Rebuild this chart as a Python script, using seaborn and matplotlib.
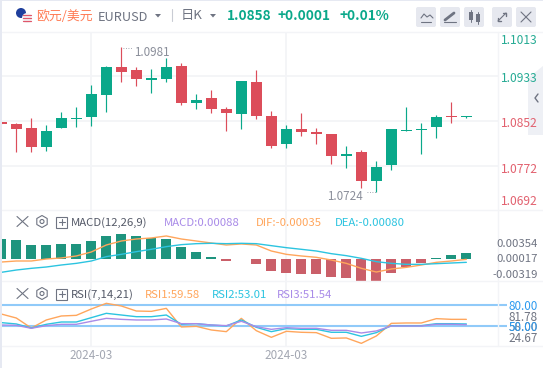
import matplotlib
matplotlib.use("Agg")
import matplotlib.pyplot as plt
import matplotlib.patches as mp
import seaborn as sns
import pandas as pd
import numpy as np

# candles (last one is the latest day)
opens = [1.08507, 1.08471, 1.08399, 1.08057, 1.08399, 1.08561, 1.08597, 1.08993, 1.09497, 1.09443, 1.09270,
         1.09281, 1.09515, 1.08849, 1.08939, 1.08741, 1.08651, 1.09227, 1.08615, 1.08111, 1.08381, 1.08327,
         1.08291, 1.07895, 1.07967, 1.07445, 1.07733, 1.08345, 1.08354, 1.08417, 1.08597, 1.08588]
closes = [1.08471, 1.08381, 1.08057, 1.08345, 1.08579, 1.08579, 1.09011, 1.09497, 1.09407, 1.09281, 1.09281,
          1.09497, 1.08849, 1.08903, 1.08741, 1.08669, 1.09245, 1.08615, 1.08075, 1.08381, 1.08327, 1.08291,
          1.07895, 1.07931, 1.07445, 1.07697, 1.08381, 1.08363, 1.08372, 1.08597, 1.08588, 1.08597]
highs = [1.08507, 1.08489, 1.08579, 1.08453, 1.08687, 1.08777, 1.09173, 1.09515, 1.09852, 1.09497, 1.09461,
         1.09659, 1.09569, 1.09011, 1.09083, 1.08777, 1.09245, 1.09443, 1.08705, 1.08453, 1.08669, 1.08399,
         1.08291, 1.08075, 1.08003, 1.07805, 1.08381, 1.08777, 1.08489, 1.08633, 1.08867, 1.08615]
lows = [1.08471, 1.07967, 1.07967, 1.07985, 1.08399, 1.08417, 1.08435, 1.08687, 1.09227, 1.09155, 1.09029,
        1.09227, 1.08813, 1.08741, 1.08669, 1.08345, 1.08381, 1.08561, 1.08039, 1.08039, 1.08255, 1.08111,
        1.07751, 1.07679, 1.07319, 1.07252, 1.07643, 1.08345, 1.07931, 1.08219, 1.08489, 1.08579]

macd_hist = [.0045, .00428, .00315, .00315, .00338, .00338, .00405, .00518, .00563, .00518, .00473,
             .0045, .0027, .00158, .00045, -.00045, .00011, -.00113, -.0027, -.00315, -.00338, -.00338,
             -.00405, -.00428, -.00495, -.00495, -.00315, -.00188, -.00098, .00015, .0009, .00135]
dif = [-.00068, -.00045, -.00045, 0, .00023, .00068, .00158, .00315, .00405, .0045, .00473,
       .00518, .0045, .00405, .0036, .00315, .00338, .00315, .0018, .00105, .00068, .00038,
       -.00023, -.00098, -.0021, -.00293, -.00225, -.00188, -.00135, -.00075, -.00045, -.00008]
dea = [-.003, -.00248, -.0021, -.0018, -.00135, -.00098, -.00045, .00053, .00105, .00165, .00218,
       .00278, .00323, .00345, .00353, .00345, .00353, .00345, .003, .00255, .00218, .0018,
       .0012, .00075, .00015, -.0006, -.00098, -.0012, -.0012, -.00105, -.0009, -.00075]

rsi1 = [67.1, 61.4, 47.1, 58.6, 64.3, 65.2, 74.3, 82.4, 78.6, 71.4, 70.9, 75.2, 48.6, 49.5, 44.3, 41.9,
        60.9, 43.3, 33.8, 42.4, 41.0, 40.5, 32.4, 32.9, 25.2, 35.7, 53.8, 54.3, 54.3, 60.5, 59.5, 59.5]
rsi2 = [54.8, 52.9, 47.1, 52.4, 55.7, 55.7, 61.9, 68.1, 65.7, 63.3, 63.3, 65.7, 52.4, 53.3, 51.4, 50.0,
        58.6, 48.1, 41.9, 46.2, 45.2, 45.2, 41.0, 41.0, 35.2, 40.5, 50.5, 50.5, 50.5, 53.3, 53.3, 52.9]
rsi3 = [51.4, 51.0, 46.7, 50.5, 52.4, 52.4, 56.7, 60.9, 59.5, 58.6, 58.6, 60.0, 53.3, 53.3, 51.4, 50.5,
        56.7, 49.0, 45.2, 47.6, 46.7, 46.7, 43.8, 43.8, 40.0, 42.9, 50.0, 50.0, 50.0, 52.4, 52.4, 51.9]

price_ticks = [1.1013, 1.0933, 1.0852, 1.0772, 1.0692]
price_labels = ["1.1013", "1.0933", "1.0852", "1.0772", "1.0692"]
date_ticks = [6, 19]
date_labels = ["2024-03", "2024-03"]

GREEN = "#0AA88A"
RED = "#DC4D5A"
ORANGE = "#FFA65C"
CYAN = "#2CC4E0"
PURPLE = "#A98BE8"
GRID = "#F3F4F7"
GRAY = "#6F7482"

sns.set_theme(style="white")
plt.rcParams["font.family"] = ["Noto Sans CJK SC", "DejaVu Sans"]

W, H = 543, 368
fig = plt.figure(figsize=(W / 100, H / 100), dpi=100)


def pane(top, bottom):
    ax = fig.add_axes([2 / W, 1 - bottom / H, (497.7 - 2) / W, (bottom - top) / H])
    ax.set_xlim(0.047, 33.09)
    for sp in ax.spines.values():
        sp.set_visible(False)
    ax.set_xticks(date_ticks)
    ax.tick_params(length=0, labelbottom=False, labelleft=False)
    ax.grid(True, color=GRID, lw=1.3)
    ax.set_axisbelow(True)
    return ax


# price pane
ax1 = pane(32, 210)
ax1.set_ylim(1.06923, 1.10127)
ax1.set_yticks(price_ticks[1:4])
idx = np.arange(len(opens))
o, c, hi, lo = map(np.array, (opens, closes, highs, lows))
cols = [GREEN if c[i] >= o[i] else RED for i in idx]
ax1.vlines(idx, lo, hi, colors=cols, lw=0.85)
body = np.maximum(np.abs(c - o), 0.00022)
ax1.bar(idx, body, bottom=np.minimum(o, c), width=0.73, color=cols, linewidth=0)

# macd pane
ax2 = pane(210, 281)
macd_df = pd.DataFrame({"i": idx, "hist": macd_hist, "dif": dif, "dea": dea})
macd_df["side"] = np.where(macd_df["hist"] >= 0, "up", "down")
sns.barplot(data=macd_df, x="i", y="hist", hue="side", palette={"up": GREEN, "down": RED}, native_scale=True,
            width=0.67, dodge=False, errorbar=None, legend=False, linewidth=0, ax=ax2)
sns.lineplot(data=macd_df, x="i", y="dif", color=ORANGE, lw=1, ax=ax2)
sns.lineplot(data=macd_df, x="i", y="dea", color=CYAN, lw=1, ax=ax2)
ax2.set_xlim(0.047, 33.09)
ax2.set_ylim(-.00495, .011025)
ax2.set_yticks([])
ax2.set_xlabel("")
ax2.set_ylabel("")
ax2.set_xticks(date_ticks)

# rsi pane
ax3 = pane(281, 346)
ax3.hlines([80, 50], 0.047, 33.7, colors="#90CAF9", lw=1.5, clip_on=False, zorder=1)
rsi_df = pd.DataFrame({"i": idx, "r1": rsi1, "r2": rsi2, "r3": rsi3})
sns.lineplot(data=rsi_df, x="i", y="r1", color=ORANGE, lw=1, ax=ax3)
sns.lineplot(data=rsi_df, x="i", y="r2", color=CYAN, lw=1, ax=ax3)
sns.lineplot(data=rsi_df, x="i", y="r3", color=PURPLE, lw=1, ax=ax3)
ax3.set_xlim(0.047, 33.09)
ax3.set_ylim(21.4, 114.3)
ax3.set_yticks([])
ax3.set_xlabel("")
ax3.set_ylabel("")
ax3.set_xticks(date_ticks)
ax3.set_xticklabels(date_labels, fontsize=8.4, color="#A3A7B2")
ax3.tick_params(labelbottom=True, pad=2.5, length=0)

# overlay in pixels for header, side labels and small icons
ov = fig.add_axes([0, 0, 1, 1], zorder=5)
ov.set_xlim(0, W)
ov.set_ylim(H, 0)
ov.axis("off")
ov.patch.set_alpha(0)


def label(x, y, s, color=GRAY, size=8.6, ha="left", **kw):
    ov.text(x, y, s, color=color, fontsize=size, ha=ha, va="center_baseline", **kw)


def seg(xs, ys, color=GRAY, lw=0.8):
    ov.plot(xs, ys, color=color, lw=lw, solid_capstyle="round")


ov.add_patch(mp.Rectangle((0, 0), 2, H, color="#E6E9F2", lw=0))
ov.add_patch(mp.Rectangle((0, 0), W, 1, color="#E6E9F2", lw=0))
seg([2, W], [31.5, 31.5], GRID, 1)
seg([497.7, 497.7], [32, 346], GRID, 1)
seg([2, W], [210, 210], GRID, 1)
seg([2, W], [281, 281], GRID, 1)
seg([2, W], [346, 346], GRID, 1)

# header
ov.add_patch(mp.Circle((21, 13), 5, color="#1F3F9C", lw=0))
ov.add_patch(mp.Circle((27, 18), 5, color="#F4F4F6", lw=0))
for yy in (15, 18, 21):
    seg([23, 31], [yy, yy], "#E0566A", 0.9)
label(36, 14.5, "欧元/美元", "#FF7B54", 9.3)
label(98, 16, "EURUSD", GRAY, 9.2)
ov.add_patch(mp.Polygon([[155, 14], [161, 14], [158, 17.5]], color=GRAY, lw=0))
seg([171.5, 171.5], [9, 21], "#C9CCD4", 0.8)
label(181, 14.5, "日K", GRAY, 9.5)
ov.add_patch(mp.Polygon([[210, 14], [216, 14], [213, 17.5]], color=GRAY, lw=0))
label(226.5, 14.5, "1.0858", GREEN, 9.8, fontweight="bold")
label(278, 14.5, "+0.0001", GREEN, 9.8, fontweight="bold")
label(340, 14.5, "+0.01%", GREEN, 9.8, fontweight="bold")
for bx in (416, 440, 464, 492, 516):
    ov.add_patch(mp.FancyBboxPatch((bx + 2, 9), 16, 16, boxstyle="round,pad=2", fc="#E6E8EF", ec="none"))
seg([421, 424, 427, 430, 433], [18, 14, 17, 15, 18], GRAY, 0.8)
seg([421, 431], [21.5, 21.5], GRAY, 0.8)
seg([445, 454], [20, 13], GRAY, 2)
seg([444, 456], [22, 22], GRAY, 0.8)
ov.add_patch(mp.Rectangle((469, 12), 4, 8, color=GRAY, lw=0))
ov.add_patch(mp.Rectangle((476, 14), 4, 8, color=GRAY, lw=0))
seg([471, 471], [10, 22], GRAY, 0.7)
seg([478, 478], [12, 24], GRAY, 0.7)
seg([498, 506], [21, 13], GRAY, 0.8)
seg([503, 506, 506], [13, 13, 16], GRAY, 1)
seg([498, 498, 501], [18, 21, 21], GRAY, 1)
seg([521, 531], [12, 22], GRAY, 0.8)
seg([521, 531], [22, 12], GRAY, 0.8)

# collapse tab on the right
ov.add_patch(mp.Polygon([[543, 66], [528, 78], [528, 135], [543, 135]], color="#EEF0F5", lw=0))
seg([538, 535, 538], [94, 98, 102], GRAY, 1)

# price labels, top two green and the rest red
price_y = [39, 77, 122, 168, 200]
for s, yy, col in zip(price_labels, price_y, ["#26AB94", "#26AB94", "#E2616F", "#E2616F", "#E2616F"]):
    label(538, yy, s, col, 8.7, ha="right")

# high and low marks
label(134, 50.5, "1.0981", "#8A8E9A", 8.4)
seg([123, 133], [47.5, 47.5], "#8A8E9A", 0.6)
ov.lines[-1].set_linestyle((0, (1, 2)))
label(327, 194.5, "1.0724", "#8A8E9A", 8.4)
seg([367, 377], [192, 192], "#8A8E9A", 0.6)
ov.lines[-1].set_linestyle((0, (1, 2)))


def pane_icons(y):
    seg([17, 28], [y - 5, y + 5], GRAY, 0.8)
    seg([17, 28], [y + 5, y - 5], GRAY, 0.8)
    ov.add_patch(mp.RegularPolygon((42, y), 6, radius=6, fc="none", ec=GRAY, lw=0.8))
    ov.add_patch(mp.Circle((42, y), 2, fc="none", ec=GRAY, lw=0.8))
    ov.add_patch(mp.Rectangle((56, y - 5), 11, 11, fc="none", ec=GRAY, lw=0.8))
    seg([58.5, 64.5], [y + 0.5, y + 0.5], GRAY, 0.8)
    seg([61.5, 61.5], [y - 2.5, y + 3.5], GRAY, 0.8)


# macd header and labels
pane_icons(221.5)
label(71, 221.5, "MACD(12,26,9)", "#555A68", 8.2)
label(164, 221.5, "MACD:0.00088", PURPLE, 8.2)
label(256, 221.5, "DIF:-0.00035", ORANGE, 8.2)
label(335, 221.5, "DEA:-0.00080", CYAN, 8.2)
label(538, 243, "0.00354", GRAY, 8.2, ha="right")
label(538, 258.5, "0.00017", GRAY, 8.2, ha="right")
label(538, 273.5, "-0.00319", GRAY, 8.2, ha="right")

# rsi header and labels
pane_icons(293.5)
label(71, 293.5, "RSI(7,14,21)", "#555A68", 8.2)
label(145, 293.5, "RSI1:59.58", ORANGE, 8.2)
label(212, 293.5, "RSI2:53.01", CYAN, 8.2)
label(277, 293.5, "RSI3:51.54", PURPLE, 8.2)
label(538, 305, "80.00", "#2D9BF0", 8.4, ha="right")
label(538, 316, "81.78", GRAY, 8.4, ha="right")
label(538, 326, "58.00", GRAY, 8.4, ha="right")
label(538, 326, "50.00", "#2D9BF0", 8.4, ha="right")
label(538, 337, "24.67", GRAY, 8.4, ha="right")

fig.savefig("out.png", dpi=100)
